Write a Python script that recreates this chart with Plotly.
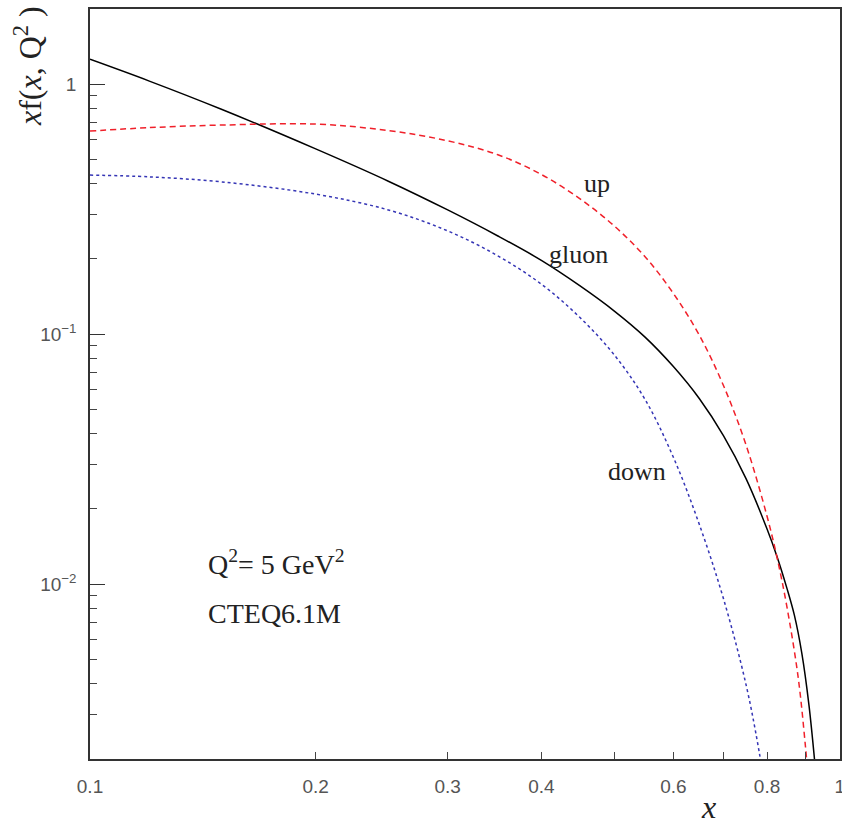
import plotly.graph_objects as go

# ---- data ----
x_gluon = [0.1, 0.12, 0.15, 0.2, 0.25, 0.3, 0.35, 0.4, 0.45, 0.5, 0.55, 0.6, 0.65, 0.7, 0.75, 0.8, 0.825, 0.85, 0.87, 0.89, 0.91, 0.93]
gluon = [1.2585, 1.0296, 0.7925, 0.5512, 0.4094, 0.3142, 0.2472, 0.1974, 0.1564, 0.1241, 0.09741, 0.07426, 0.05522, 0.03923, 0.02644, 0.01664, 0.01289, 0.009675, 0.007521, 0.005318, 0.003279, 0.001707]

x_up = [0.1, 0.12, 0.15, 0.2, 0.25, 0.3, 0.35, 0.4, 0.45, 0.5, 0.55, 0.6, 0.65, 0.7, 0.75, 0.8, 0.825, 0.85, 0.88, 0.9, 0.91]
up = [0.6494, 0.6707, 0.6867, 0.6927, 0.6527, 0.5940, 0.5224, 0.4356, 0.3487, 0.2716, 0.2042, 0.1456, 0.09890, 0.06222, 0.03605, 0.01870, 0.01278, 0.008177, 0.004270, 0.002256, 0.001533]

x_down = [0.1, 0.12, 0.15, 0.2, 0.25, 0.3, 0.35, 0.4, 0.45, 0.5, 0.55, 0.6, 0.65, 0.7, 0.75, 0.782, 0.8]
down = [0.4332, 0.4262, 0.4067, 0.3635, 0.3142, 0.2591, 0.2058, 0.1586, 0.1169, 0.08291, 0.05485, 0.03219, 0.01729, 0.008728, 0.003967, 0.002084, 0.001348]

x_tickvals = [0.1, 0.2, 0.3, 0.4, 0.6, 0.8, 1]
x_ticktext = ["0.1", "0.2", "0.3", "0.4", "0.6", "0.8", "1"]
x_minorvals = [0.5, 0.7, 0.9]
y_tickvals = [0.01, 0.1, 1]
y_ticktext = ["10<sup>\u22122</sup>", "10<sup>\u22121</sup>", "1"]
y_minorvals = [m * 10.0 ** e for e in (-3, -2, -1, 0) for m in range(2, 10)]

SERIF = "Liberation Serif, Times New Roman, serif"
SANS = "Liberation Sans, Arial, sans-serif"

fig = go.Figure()
fig.add_trace(go.Scatter(x=x_gluon, y=gluon, mode="lines", line=dict(color="black", width=1.5, shape="spline", smoothing=1), name="gluon"))
fig.add_trace(go.Scatter(x=x_up, y=up, mode="lines", line=dict(color="#f0202a", width=1.5, dash="6px,4px", shape="spline", smoothing=1), name="up"))
fig.add_trace(go.Scatter(x=x_down, y=down, mode="lines", line=dict(color="#3535b5", width=1.5, dash="dot", shape="spline", smoothing=1), name="down"))

W, H = 842, 828
L, R, T, B = 90, 2, 9, 69
pw, ph = W - L - R, H - T - B


def px(xp):
    return (xp - L) / pw


def py(yp):
    return (H - B - yp) / ph


def label(text, xc, yc, size=26, xanchor="center", yanchor="middle", **kw):
    return dict(text=text, x=px(xc), y=py(yc), xref="paper", yref="paper",
                showarrow=False, xanchor=xanchor, yanchor=yanchor,
                font=dict(family=SERIF, size=size, color="#222"), **kw)


fig.update_layout(
    width=W, height=H,
    margin=dict(l=L, r=R, t=T, b=B, autoexpand=False),
    paper_bgcolor="white", plot_bgcolor="white",
    showlegend=False,
    xaxis=dict(
        type="log", range=[-1, 0.0004], showgrid=False, zeroline=False,
        showline=True, linecolor="#333", linewidth=1.5, mirror=True,
        ticks="inside", ticklen=7, tickcolor="#444", tickwidth=1,
        tickmode="array", tickvals=x_tickvals, ticktext=x_ticktext,
        tickfont=dict(family=SANS, size=19, color="#555"),
        ticklabelstandoff=9, ticklabeloverflow="allow", automargin=False,
        minor=dict(ticks="inside", ticklen=7, tickcolor="#444", tickwidth=1,
                   tickmode="array", tickvals=x_minorvals, showgrid=False),
    ),
    yaxis=dict(
        type="log", range=[-2.699, 0.301], showgrid=False, zeroline=False,
        showline=True, linecolor="#333", linewidth=1.5, mirror=True,
        ticks="inside", ticklen=15, tickcolor="#333", tickwidth=1,
        tickmode="array", tickvals=y_tickvals, ticktext=y_ticktext,
        tickfont=dict(family=SANS, size=19, color="#555"),
        ticklabelstandoff=8, automargin=False,
        minor=dict(ticks="inside", ticklen=7, tickcolor="#444", tickwidth=1,
                   tickmode="array", tickvals=y_minorvals, showgrid=False),
    ),
    annotations=[
        label("<i>x</i>", 708, 827, size=32, yanchor="bottom"),
        label("<i>x</i>f(<i>x</i>, Q<sup>2</sup> )", 28, 66, size=32, textangle=-90),
        label("up", 597, 184),
        label("gluon", 578, 254),
        label("down", 637, 472),
        label("Q<sup>2</sup>= 5 GeV<sup>2</sup>", 206, 562, size=28, xanchor="left"),
        label("CTEQ6.1M", 206, 613, size=28, xanchor="left"),
    ],
)

fig.write_html("out.html")
